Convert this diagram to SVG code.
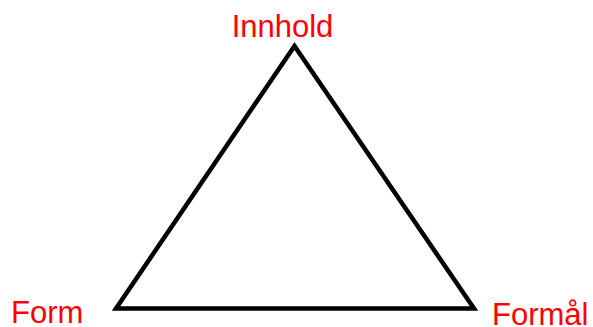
<svg xmlns="http://www.w3.org/2000/svg" width="593" height="327" viewBox="0 0 593 327">
<style>
.lbl{font-family:"Liberation Sans",Arial,sans-serif;font-size:31px;fill:#ff0000}
.tri{fill:none;stroke:#000;stroke-width:4.5;stroke-linejoin:miter}
</style>
<rect width="593" height="327" fill="#fff"/>
<g id="connectors">
<polygon class="tri" points="294.5,46 116,308.5 474,308.5"/>
</g>
<g id="innhold"><text class="lbl" x="282.5" y="37" text-anchor="middle">Innhold</text></g>
<g id="form"><text class="lbl" x="11" y="322.5">Form</text></g>
<g id="formal"><text class="lbl" x="492" y="324.5">Formål</text></g>
</svg>
